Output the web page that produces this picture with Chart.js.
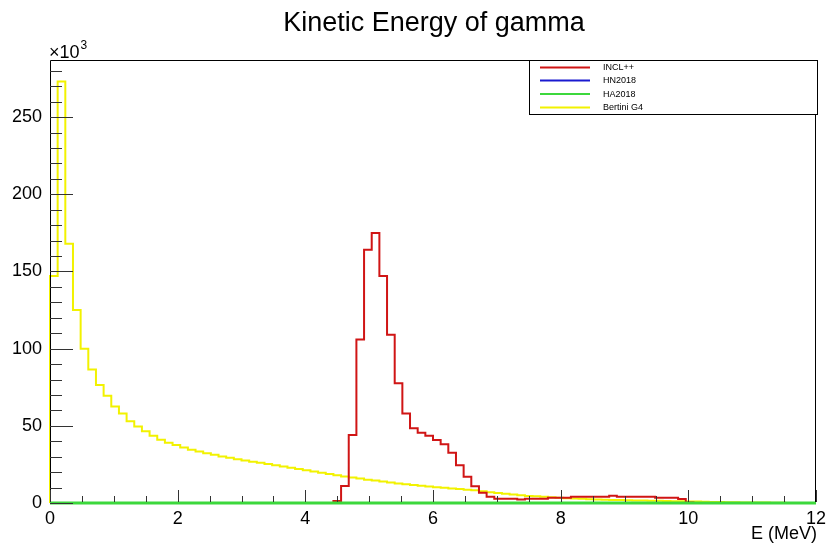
<!DOCTYPE html>
<html>
<head>
<meta charset="utf-8">
<script src="https://cdn.jsdelivr.net/npm/chart.js@4.4.0/dist/chart.umd.min.js"></script>
<style>
  html, body { margin: 0; padding: 0; background: #fff; }
</style>
</head>
<body>
<canvas id="keChart" width="827" height="543"></canvas>
<script>
// 100 bins over 0-12 MeV, counts in units of 10^3
const binWidth = 0.12;
const xTicks = [0, 2, 4, 6, 8, 10, 12];
const yTicks = [0, 50, 100, 150, 200, 250];
const seriesNames = ['INCL++', 'HN2018', 'HA2018', 'Bertini G4'];
const seriesColors = ['#d01515', '#1a1ad0', '#3cd83c', '#f2f200'];

const inclValues = [
  0, 0, 0, 0, 0, 0, 0, 0, 0, 0,
  0, 0, 0, 0, 0, 0, 0, 0, 0, 0,
  0, 0, 0, 0, 0, 0, 0, 0, 0, 0,
  0, 0, 0, 0, 0, 0, 0, 1.3, 11, 44,
  106, 164, 175, 147, 109, 77.5, 58, 48.5, 45.5, 43.5,
  40.8, 38, 32.5, 24.5, 17, 10.8, 6.7, 4, 2.8, 2.8,
  2.8, 2.2, 2.8, 2.8, 2.8, 3.4, 3.4, 3.4, 4, 4,
  4, 4, 4, 4.7, 4, 4, 4, 4, 4, 3.4,
  3.4, 3.4, 2.6, 0.3, 0, 0, 0, 0, 0, 0,
  0, 0, 0, 0, 0, 0, 0, 0, 0, 0
];
const hnValues = [
  0, 0, 0, 0, 0, 0, 0, 0, 0, 0,
  0, 0, 0, 0, 0, 0, 0, 0, 0, 0,
  0, 0, 0, 0, 0, 0, 0, 0, 0, 0,
  0, 0, 0, 0, 0, 0, 0, 0, 0, 0,
  0, 0, 0, 0, 0, 0, 0, 0, 0, 0,
  0, 0, 0, 0, 0, 0, 0, 0, 0, 0,
  0, 0, 0, 0, 0, 0, 0, 0, 0, 0,
  0, 0, 0, 0, 0, 0, 0, 0, 0, 0,
  0, 0, 0, 0, 0, 0, 0, 0, 0, 0,
  0, 0, 0, 0, 0, 0, 0, 0, 0, 0
];
const haValues = [
  0, 0, 0, 0, 0, 0, 0, 0, 0, 0,
  0, 0, 0, 0, 0, 0, 0, 0, 0, 0,
  0, 0, 0, 0, 0, 0, 0, 0, 0, 0,
  0, 0, 0, 0, 0, 0, 0, 0, 0, 0,
  0, 0, 0, 0, 0, 0, 0, 0, 0, 0,
  0, 0, 0, 0, 0, 0, 0, 0, 0, 0,
  0, 0, 0, 0, 0, 0, 0, 0, 0, 0,
  0, 0, 0, 0, 0, 0, 0, 0, 0, 0,
  0, 0, 0, 0, 0, 0, 0, 0, 0, 0,
  0, 0, 0, 0, 0, 0, 0, 0, 0, 0
];
const bertiniValues = [
  147, 273, 168, 125, 100, 86.5, 76.5, 69.5, 62.5, 58,
  53, 49.5, 46.5, 43.5, 41, 39, 37.5, 36, 34.5, 33.3,
  32.2, 31.2, 30.2, 29.3, 28.4, 27.6, 26.8, 26, 25.2, 24.4,
  23.6, 22.8, 22, 21.2, 20.4, 19.6, 18.8, 18, 17.2, 16.5,
  15.8, 15.1, 14.5, 13.9, 13.3, 12.7, 12.2, 11.7, 11.2, 10.7,
  10.2, 9.8, 9.4, 9, 8.6, 8.2, 7.6, 7, 6.5, 6,
  5.5, 5.1, 4.6, 4.3, 4, 3.7, 3.4, 3.1, 2.9, 2.7,
  2.5, 2.3, 2.1, 2, 1.9, 1.8, 1.7, 1.6, 1.5, 1.4,
  1.3, 1.2, 1.1, 1, 0.9, 0.8, 0.7, 0.6, 0.5, 0.45,
  0.4, 0.35, 0.3, 0.25, 0.2, 0.1, 0, 0, 0, 0
];

const fontFamily = '"Liberation Sans", Arial, Helvetica, sans-serif';

// histogram outline: a point at each bin's low edge, closed at 12 MeV
function toSteps(vals) {
  const pts = [{ x: 0, y: 0 }];
  vals.forEach((v, i) => pts.push({ x: i * binWidth, y: v }));
  pts.push({ x: vals.length * binWidth, y: vals[vals.length - 1] });
  return pts;
}

function makeDataset(idx, vals, width, order) {
  return {
    label: seriesNames[idx],
    data: toSteps(vals),
    borderColor: seriesColors[idx],
    borderWidth: width,
    stepped: 'before',
    pointRadius: 0,
    fill: false,
    clip: 3,
    order: order
  };
}

// ROOT-like frame, inner ticks, title, multiplier and legend box
const rootStyle = {
  id: 'rootStyle',
  afterDraw(chart) {
    const ctx = chart.ctx;
    const a = chart.chartArea;
    const xs = chart.scales.x;
    const ys = chart.scales.y;
    ctx.save();

    ctx.strokeStyle = '#000';
    ctx.lineWidth = 1;
    ctx.beginPath();
    ctx.moveTo(a.left + 0.5, a.bottom - 1);
    ctx.lineTo(a.left + 0.5, a.top + 0.5);
    ctx.lineTo(a.right - 0.5, a.top + 0.5);
    ctx.lineTo(a.right - 0.5, a.bottom - 1);
    ctx.stroke();

    ctx.strokeStyle = '#333';
    ctx.beginPath();
    for (let v = 0; v <= 12.0001; v += 0.5) {
      const px = Math.round(xs.getPixelForValue(v)) + 0.5;
      const major = Math.abs(v / 2 - Math.round(v / 2)) < 1e-6;
      ctx.moveTo(px, a.bottom - 1);
      ctx.lineTo(px, a.bottom - (major ? 13 : 7));
    }
    for (let v = 0; v <= 287; v += 10) {
      const py = Math.round(ys.getPixelForValue(v)) + 0.5;
      const major = v % 50 === 0;
      ctx.moveTo(a.left, py);
      ctx.lineTo(a.left + (major ? 23 : 12), py);
    }
    ctx.stroke();

    ctx.fillStyle = '#000';
    ctx.textBaseline = 'alphabetic';
    ctx.textAlign = 'center';
    ctx.font = '27px ' + fontFamily;
    ctx.fillText('Kinetic Energy of gamma', 434, 31);

    ctx.textAlign = 'left';
    ctx.font = '18px ' + fontFamily;
    ctx.fillText('\u00d710', a.left - 1, 58);
    const w = ctx.measureText('\u00d710').width;
    ctx.font = '12px ' + fontFamily;
    ctx.fillText('3', a.left - 1 + w + 1, 49);

    ctx.textAlign = 'right';
    ctx.font = '18px ' + fontFamily;
    ctx.fillText('E (MeV)', a.right + 1, 539);

    // legend
    const lx = 529.5, ly = 60.5, lw = 288, lh = 54;
    ctx.fillStyle = '#fff';
    ctx.fillRect(lx, ly, lw, lh);
    ctx.strokeStyle = '#000';
    ctx.strokeRect(lx, ly, lw, lh);
    const rows = [67.5, 80.5, 94, 107.5];
    ctx.font = '9px ' + fontFamily;
    ctx.textAlign = 'left';
    ctx.textBaseline = 'middle';
    seriesNames.forEach((name, i) => {
      ctx.strokeStyle = seriesColors[i];
      ctx.lineWidth = 2;
      ctx.beginPath();
      ctx.moveTo(540, rows[i]);
      ctx.lineTo(590, rows[i]);
      ctx.stroke();
      ctx.fillStyle = '#000';
      ctx.fillText(name, 603, rows[i] + 0.5);
    });
    ctx.restore();
  }
};

const keChart = new Chart(document.getElementById('keChart'), {
  type: 'line',
  data: {
    datasets: [
      makeDataset(0, inclValues, 2, 2),
      makeDataset(1, hnValues, 2, 1),
      makeDataset(2, haValues, 3, 0),
      makeDataset(3, bertiniValues, 2, 3)
    ]
  },
  options: {
    responsive: false,
    animation: false,
    devicePixelRatio: 1,
    layout: { padding: { top: 60, right: 11, left: 0, bottom: 0 } },
    plugins: {
      legend: { display: false },
      title: { display: false },
      tooltip: { enabled: false }
    },
    scales: {
      x: {
        type: 'linear',
        min: 0,
        max: 12,
        afterFit(scale) { scale.height = 40; },
        afterBuildTicks(scale) { scale.ticks = xTicks.map(v => ({ value: v })); },
        grid: { display: false },
        border: { display: false },
        ticks: { color: '#000', padding: -3, maxRotation: 0, font: { size: 18, family: fontFamily } }
      },
      y: {
        type: 'linear',
        min: 0,
        max: 287,
        afterFit(scale) { scale.width = 50; },
        afterBuildTicks(scale) { scale.ticks = yTicks.map(v => ({ value: v })); },
        grid: { display: false },
        border: { display: false },
        ticks: { color: '#000', padding: 0, font: { size: 18, family: fontFamily } }
      }
    }
  },
  plugins: [rootStyle]
});
</script>
</body>
</html>
